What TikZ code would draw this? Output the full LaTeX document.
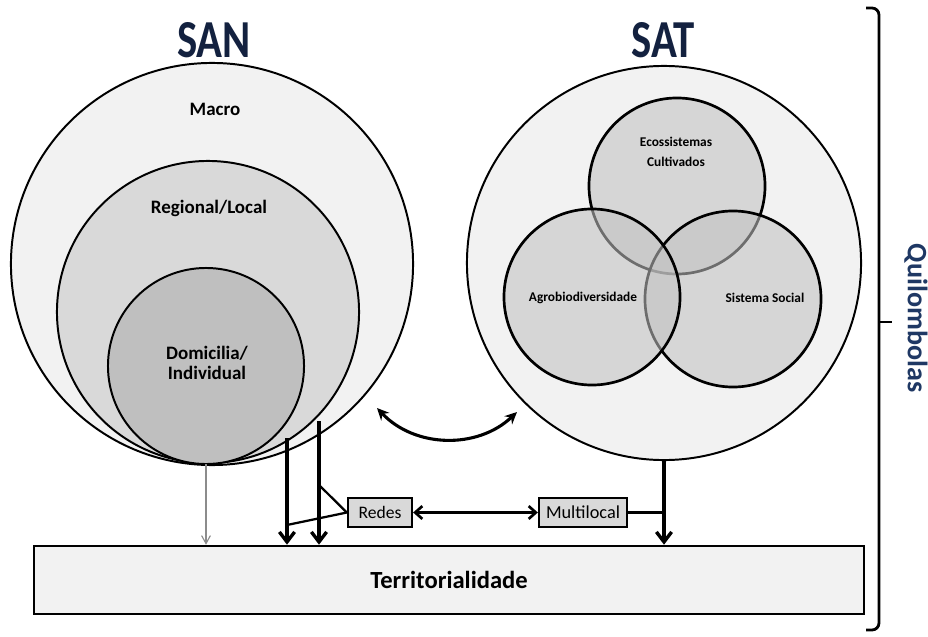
\documentclass[tikz,border=0pt]{standalone}
\usepackage{fontspec}
\setmainfont{Carlito}
\usetikzlibrary{arrows.meta, positioning}
\definecolor{navy}{HTML}{13213F}
\definecolor{qblue}{HTML}{1F3864}
\definecolor{ltgray}{HTML}{F2F2F2}
\definecolor{mdgray}{HTML}{D9D9D9}
\definecolor{dkgray}{HTML}{BFBFBF}
\definecolor{venngray}{HTML}{C2C2C2}
\definecolor{thingray}{HTML}{8C8C8C}

\begin{document}
\begin{tikzpicture}[
    x=0.025cm, y=-0.025cm,
    line width=1.4pt,
    ring/.style={circle, draw=black, line width=1.4pt, inner sep=0pt, outer sep=0pt},
    venn/.style={ring, line width=1.9pt, fill=venngray, fill opacity=0.566, minimum size=4.4cm},
    title/.style={font=\bfseries\fontsize{38}{38}\selectfont, text=navy},
    lbl/.style={font=\bfseries\fontsize{13.5}{14.2}\selectfont, align=center},
    vlbl/.style={font=\bfseries\fontsize{9.5}{14.2}\selectfont, align=center},
    tag/.style={draw=black, fill=mdgray, line width=1.6pt, inner sep=0pt, minimum height=0.725cm},
    bar/.style={line width=2.4pt, -{Straight Barb[length=0.25cm, width=0.38cm]}},
  ]

  % Background
  \fill[white] (0,0) rectangle (928,637);
  \useasboundingbox (0,0) rectangle (928,637);

  %%% ============================================================ %%%
  %%% SAN: nested circles                                          %%%
  %%% ============================================================ %%%
  \node[title] (santitle) at (214,40) {\scalebox{0.8}[1]{SAN}};
  \node[ring, fill=ltgray, minimum size=10.05cm] (san) at (212,264) {};
  \node[ring, fill=mdgray, minimum size=7.55cm] (regional) at (208,312) {};
  \node[ring, fill=dkgray, minimum size=4.9cm] (domicilia) at (206,366) {};
  \node[lbl] (macro) at (215,109) {Macro};
  \node[lbl] (reglbl) at (209,208) {Regional/Local};
  \node[lbl] (domlbl) at (207,363) {Domicilia/\\Individual};

  %%% ============================================================ %%%
  %%% SAT: three overlapping circles                               %%%
  %%% ============================================================ %%%
  \node[title] (sattitle) at (663,40) {\scalebox{0.8}[1]{SAT}};
  \node[ring, fill=ltgray, minimum size=9.85cm] (sat) at (664,263) {};
  \node[venn] (eco) at (677,186) {};
  \node[venn] (social) at (733,299) {};
  \node[venn] (agro) at (592,297) {};
  \node[vlbl] (ecolbl) at (676,152) {Ecossistemas\\Cultivados};
  \node[vlbl] (agrolbl) at (583,298) {Agrobiodiversidade};
  \node[vlbl] (soclbl) at (765,298) {Sistema Social};

  %%% ============================================================ %%%
  %%% Territorialidade and the links                               %%%
  %%% ============================================================ %%%
  \node[draw, fill=ltgray, line width=1.8pt, inner sep=0pt,
    minimum width=20.75cm, minimum height=1.7cm,
    font=\bfseries\fontsize{17.5}{20}\selectfont] (terr) at (449,580) {Territorialidade};
  \node[tag, minimum width=1.6cm, font=\fontsize{12.5}{15}\selectfont] (redes) at (380,512.5) {Redes};
  \node[tag, minimum width=2.2cm, font=\fontsize{13}{16}\selectfont] (multi) at (583,512.5) {Multilocal};

  % start points of the arrows out of the SAN rings
  \coordinate (regout) at (287,438);
  \coordinate (sanout) at (319,421);
  \coordinate (redesa) at (319,485);
  \coordinate (redesb) at (287,525);

  \draw[thingray, line width=0.8pt, -{Straight Barb[length=0.2cm, width=0.22cm]}]
    (domicilia.south) -- (domicilia.south |- terr.north);
  \draw[bar] (regout) -- (regout |- terr.north);
  \draw[bar] (sanout) -- (sanout |- terr.north);
  \draw[line width=1.6pt] (redesa) -- (redes.west) -- (redesb);
  \draw[line width=1.9pt, {Straight Barb[length=0.18cm, width=0.32cm]}-{Straight Barb[length=0.18cm, width=0.32cm]}]
    (redes.east) -- (multi.west);
  \draw[line width=1.6pt] (multi.east) -- (multi.east -| sat.south);
  \draw[bar] (sat.south) -- (sat.south |- terr.north);

  % SAN <-> SAT
  \coordinate (sanend) at (377,408);
  \coordinate (satend) at (517,412);
  \draw[line width=2.2pt, {Stealth[length=0.3cm, width=0.28cm]}-{Stealth[length=0.3cm, width=0.28cm]}]
    (sanend) to[bend right=45] (satend);

  %%% ============================================================ %%%
  %%% Quilombolas bracket                                          %%%
  %%% ============================================================ %%%
  \draw[line width=2pt, rounded corners=5pt] (866,8) -- (879,8) -- (879,630) -- (866,630);
  \coordinate (tip) at (892,322);
  \draw[line width=2pt] (879,322) -- (tip);
  \node[font=\bfseries\fontsize{20}{20}\selectfont, text=qblue, rotate=-90] (quilo) at (916,318) {Quilombolas};

\end{tikzpicture}
\end{document}
